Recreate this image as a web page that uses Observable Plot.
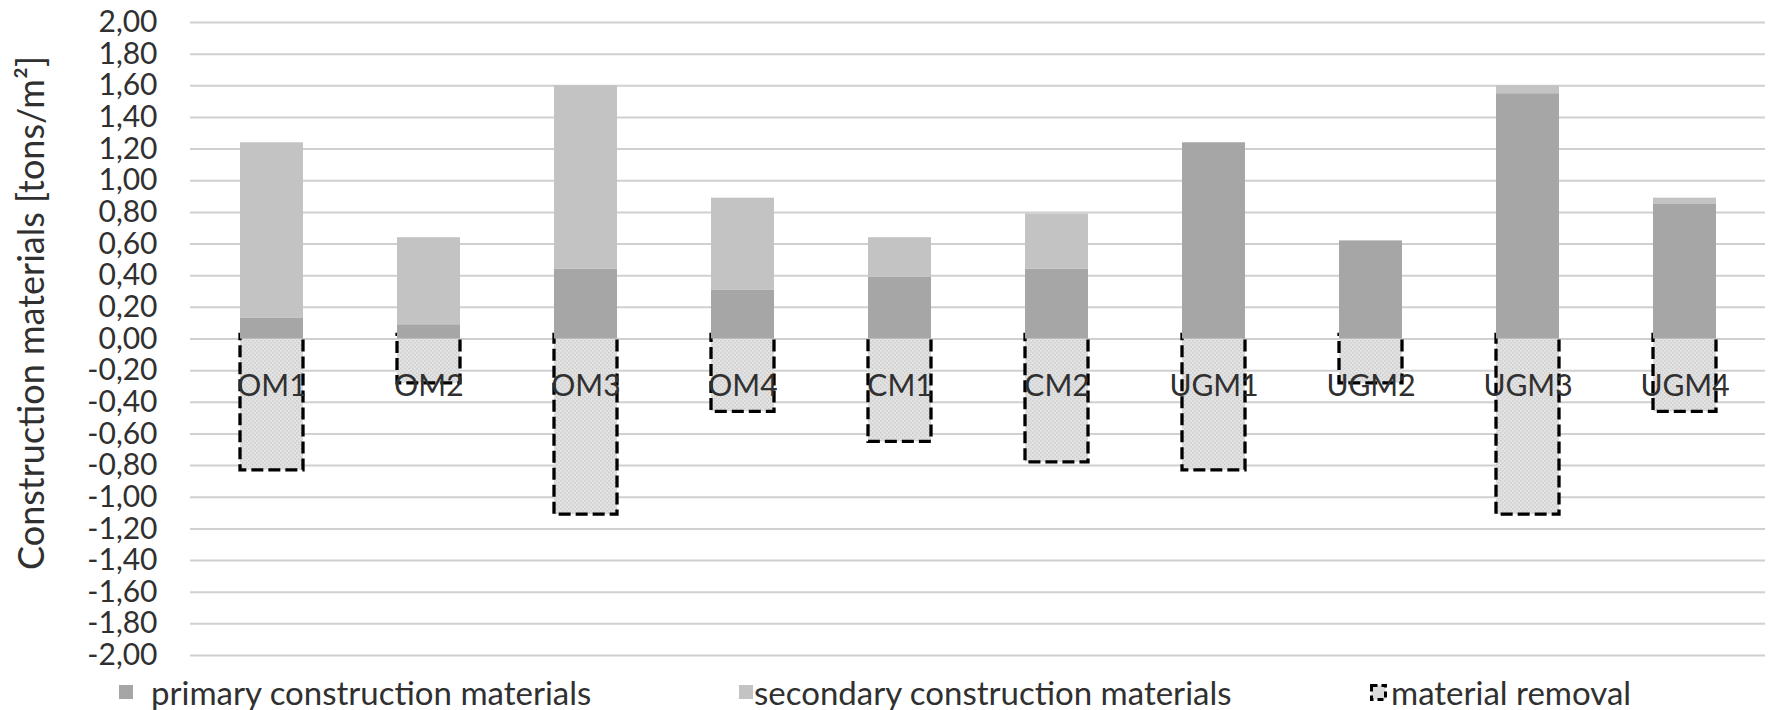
<!DOCTYPE html>
<html>
<head>
<meta charset="utf-8">
<script src="https://cdn.jsdelivr.net/npm/d3@7"></script>
<script src="https://cdn.jsdelivr.net/npm/@observablehq/plot@0.6"></script>
<style>
  html, body { margin: 0; padding: 0; background: #fff; }
  body { width: 1771px; height: 710px; overflow: hidden; font-family: Lato, "Open Sans", sans-serif; }
  #legend { position: relative; height: 40px; font-size: 33px; color: #303030; margin-top: 2px; }
  #legend .icon { position: absolute; top: 13px; width: 14px; height: 14px; }
  #legend .txt { position: absolute; top: 0; height: 40px; line-height: 40px; white-space: nowrap; }
</style>
</head>
<body>
<div id="chart"></div>
<div id="legend"></div>
<script>
const categories = ["OM1", "OM2", "OM3", "OM4", "CM1", "CM2", "UGM1", "UGM2", "UGM3", "UGM4"];
const primary   = [0.13, 0.09, 0.44, 0.31, 0.39, 0.44, 1.24, 0.62, 1.55, 0.85];
const secondary = [1.11, 0.55, 1.16, 0.58, 0.25, 0.35, 0.00, 0.00, 0.05, 0.04];
const removal   = [-0.83, -0.28, -1.11, -0.46, -0.65, -0.78, -0.83, -0.28, -1.11, -0.46];
const seriesNames = ["primary construction materials", "secondary construction materials", "material removal"];
const seriesColors = ["#a6a6a6", "#c3c3c3"];
const yTicks = [-2, -1.8, -1.6, -1.4, -1.2, -1, -0.8, -0.6, -0.4, -0.2, 0, 0.2, 0.4, 0.6, 0.8, 1, 1.2, 1.4, 1.6, 1.8, 2];
const yLabel = "Construction materials [tons/m²]";

const fmt = d3.formatLocale({decimal: ",", thousands: ".", grouping: [3], currency: ["", ""], minus: "-"}).format(".2f");

const stacked = categories.flatMap((c, i) => [
  {cat: c, series: seriesNames[0], value: primary[i]},
  {cat: c, series: seriesNames[1], value: secondary[i]}
]);
const removalData = categories.map((c, i) => ({cat: c, value: removal[i]}));

const textColor = "#303030";
const font = "Lato, 'Open Sans', sans-serif";

const chart = Plot.plot({
  width: 1771,
  height: 670,
  marginLeft: 190,
  marginRight: 6,
  marginTop: 22,
  marginBottom: 15,
  style: {fontFamily: font, fontSize: "30px", color: textColor, background: "#fff"},
  x: {domain: categories, paddingInner: 0.6, paddingOuter: 0.3, axis: null},
  y: {domain: [-2, 2], ticks: yTicks, tickFormat: fmt, tickSize: 0, tickPadding: 33, label: null},
  color: {domain: seriesNames.slice(0, 2), range: seriesColors},
  marks: [
    Plot.gridY(yTicks, {stroke: "#d0d0d0", strokeOpacity: 1, strokeWidth: 2}),
    Plot.axisY(yTicks, {tickSize: 0, tickPadding: 33, tickFormat: fmt, fontSize: 30, fill: textColor, label: null}),
    Plot.barY(removalData, {x: "cat", y: "value", fill: "url(#removalPattern)"}),
    Plot.barY(removalData, {x: "cat", y: "value", fill: "none", stroke: "#000", strokeWidth: 3.3, strokeDasharray: "12,5", insetTop: -4}),
    Plot.barY(stacked, {x: "cat", y: "value", fill: "series"}),
    Plot.text(categories, {x: d => d, y: () => 0, dy: 47, fontSize: 30, fill: textColor, lineAnchor: "middle"}),
    Plot.text([yLabel], {frameAnchor: "left", rotate: -90, dx: -158, dy: -26, textAnchor: "middle", lineAnchor: "middle", fontSize: 36, fill: textColor})
  ]
});

// pattern for removal fill
const ns = "http://www.w3.org/2000/svg";
const defs = document.createElementNS(ns, "defs");
defs.innerHTML = `<pattern id="removalPattern" width="4" height="4" patternUnits="userSpaceOnUse">
  <rect width="4" height="4" fill="#e2e2e2"/>
  <rect x="0" y="0" width="1.5" height="1.5" fill="#cdcdcd"/>
  <rect x="2" y="2" width="1.5" height="1.5" fill="#cdcdcd"/>
</pattern>`;
chart.insertBefore(defs, chart.firstChild);
document.getElementById("chart").appendChild(chart);

// legend
const legend = document.getElementById("legend");
const iconLeft = [119, 739, 1370];
const textLeft = [151, 754, 1391];
seriesNames.forEach((name, i) => {
  let icon;
  if (i < 2) {
    icon = `<div class="icon" style="left:${iconLeft[i]}px;background:${seriesColors[i]}"></div>`;
  } else {
    icon = `<svg class="icon" style="left:${iconLeft[i]}px;width:17px;height:17px;top:12px" width="17" height="17"><rect x="1.5" y="1.5" width="14" height="14" fill="#dcdcdc" stroke="#000" stroke-width="3" stroke-dasharray="6,4"/></svg>`;
  }
  legend.insertAdjacentHTML("beforeend", icon + `<div class="txt" style="left:${textLeft[i]}px">${name}</div>`);
});
</script>
</body>
</html>
